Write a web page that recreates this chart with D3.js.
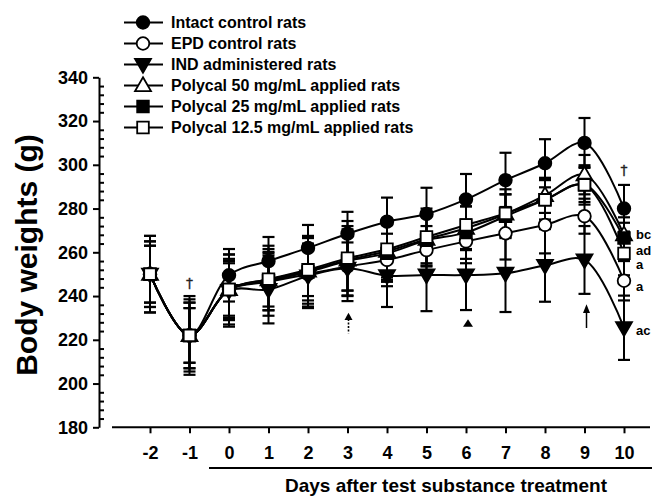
<!DOCTYPE html>
<html>
<head>
<meta charset="utf-8">
<script src="https://cdn.jsdelivr.net/npm/d3@7"></script>
<style>
  html, body { margin: 0; padding: 0; background: #fff; }
  svg { display: block; font-family: "Liberation Sans", Arial, Helvetica, sans-serif; }
</style>
</head>
<body>
<svg id="chart" width="656" height="497"></svg>
<script>
// ---------- data ----------
const days = [-2, -1, 0, 1, 2, 3, 4, 5, 6, 7, 8, 9, 10];

const intact   = [250, 222, 249.5, 256, 262, 268.5, 274, 277.5, 284.2, 293, 300.7, 310, 280];
const epd      = [250, 222, 243, 246.5, 250, 253.5, 256.5, 261, 265, 268.7, 272.5, 276.5, 247];
const ind      = [250, 222, 242.5, 243, 249.2, 252.7, 249.3, 249.6, 249.6, 250.4, 254, 256.5, 225.5];
const poly50   = [250, 222, 243, 247.5, 251.5, 256.5, 260.5, 266, 271, 277.5, 286, 295.5, 268];
const poly25   = [250, 222, 243, 247, 251, 256, 259.5, 265.5, 269, 276.5, 284, 291, 266.5];
const poly125  = [250, 222, 243, 247.7, 252, 257.3, 261.4, 267, 272.5, 277.8, 284, 290.8, 259.5];

const intactSD  = [17.5, 16.5, 12, 11, 10.5, 10, 11, 12, 11.6, 12.5, 11, 11.4, 10.8];
const epdSD     = [15, 12.5, 16, 13, 12, 11, 12, 11, 10, 12, 13, 8, 9];
const indSD     = [13, 15, 16.5, 15.5, 14, 15, 14.3, 16.5, 16, 17.7, 16.6, 15.5, 14.7];
const poly50SD  = [15, 18, 14, 14, 15, 14, 12, 11, 10, 9, 8, 9, 8];
const poly25SD  = [13, 15, 12, 16, 16.5, 16, 13, 12, 12, 10, 9, 8, 7];
const poly125SD = [17.5, 12.5, 13, 12.5, 12, 17, 14, 13, 11, 11, 10, 9, 10];

const seriesNames = [
  "Intact control rats",
  "EPD control rats",
  "IND administered rats",
  "Polycal 50 mg/mL applied rats",
  "Polycal 25 mg/mL applied rats",
  "Polycal 12.5 mg/mL applied rats"
];

const yTicks = [180, 200, 220, 240, 260, 280, 300, 320, 340];
const xTicks = [-2, -1, 0, 1, 2, 3, 4, 5, 6, 7, 8, 9, 10];

// significance letters at day 10 (text, value position)
const letterTexts  = ["bc", "ad", "a", "a", "ac"];
const letterValues = [268, 261, 254.5, 244.5, 224.5];

// daggers (day, value)
const daggerDays   = [-1, 10];
const daggerValues = [246, 297.6];

// ---------- setup ----------
const svg = d3.select("#chart");
const x = d3.scaleLinear().domain([-2, 10]).range([150, 624]);
const y = d3.scaleLinear().domain([180, 340]).range([427.3, 77.3]);

const styles = [
  {shape: d3.symbolCircle,   fill: "#000", rot: 0,   size: 125},
  {shape: d3.symbolCircle,   fill: "#fff", rot: 0,   size: 125},
  {shape: d3.symbolTriangle, fill: "#000", rot: 180, size: 110},
  {shape: d3.symbolTriangle, fill: "#fff", rot: 0,   size: 110},
  {shape: d3.symbolSquare,   fill: "#000", rot: 0,   size: 135},
  {shape: d3.symbolSquare,   fill: "#fff", rot: 0,   size: 135}
];

const means = [intact, epd, ind, poly50, poly25, poly125];
const sds = [intactSD, epdSD, indSD, poly50SD, poly25SD, poly125SD];

const series = seriesNames.map((name, i) => ({
  name, style: styles[i],
  pts: days.map((d, j) => ({day: d, m: means[i][j], sd: sds[i][j]}))
}));

// ---------- axes ----------
const yAxisX = 99;
const gy = svg.append("g").attr("transform", `translate(${yAxisX},0)`);
gy.call(d3.axisLeft(y).tickValues(yTicks).tickSize(6).tickPadding(5).tickSizeOuter(0))
  .call(g => g.select(".domain").attr("stroke-width", 2))
  .call(g => g.selectAll(".tick line").attr("stroke-width", 2))
  .call(g => g.selectAll(".tick text").attr("font-size", 18).attr("font-weight", "bold").attr("fill", "#000"));
const minorTicks = d3.range(180, 341, 4).filter(v => v % 20 !== 0);
svg.append("g").attr("transform", `translate(${yAxisX},0)`)
  .call(d3.axisRight(y).tickValues(minorTicks).tickSize(5).tickFormat(""))
  .call(g => g.select(".domain").remove())
  .call(g => g.selectAll(".tick line").attr("stroke-width", 2));

const xAxisY = 427.3;
svg.append("line").attr("x1", 112).attr("x2", 650).attr("y1", xAxisY).attr("y2", xAxisY)
  .attr("stroke", "#000").attr("stroke-width", 2);
svg.append("g").attr("transform", `translate(0,${xAxisY})`)
  .call(d3.axisBottom(x).tickValues(xTicks).tickSize(6).tickPadding(13).tickFormat(d => String(d)))
  .call(g => g.select(".domain").remove())
  .call(g => g.selectAll(".tick line").attr("stroke-width", 2))
  .call(g => g.selectAll(".tick text").attr("font-size", 18).attr("font-weight", "bold").attr("fill", "#000"));

// bracket line under days 0..10
svg.append("line").attr("x1", 209).attr("x2", 652).attr("y1", 468).attr("y2", 468)
  .attr("stroke", "#000").attr("stroke-width", 2);

svg.append("text").attr("x", 446).attr("y", 491.5)
  .attr("text-anchor", "middle").attr("font-size", 19).attr("font-weight", "bold")
  .text("Days after test substance treatment");

svg.append("text").attr("transform", "translate(37,255) rotate(-90)")
  .attr("text-anchor", "middle").attr("font-size", 30).attr("font-weight", "bold")
  .text("Body weights (g)");

// ---------- error bars ----------
const capW = 6;
const eb = svg.append("g");
series.forEach(s => {
  s.pts.forEach(p => {
    const cx = x(p.day);
    eb.append("line").attr("x1", cx).attr("x2", cx)
      .attr("y1", y(p.m - p.sd)).attr("y2", y(p.m + p.sd))
      .attr("stroke", "#000").attr("stroke-width", 2);
    [p.m - p.sd, p.m + p.sd].forEach(v => {
      eb.append("line").attr("x1", cx - capW).attr("x2", cx + capW)
        .attr("y1", y(v)).attr("y2", y(v))
        .attr("stroke", "#000").attr("stroke-width", 2.2);
    });
  });
});

// ---------- lines & markers ----------
const line = d3.line().x(p => x(p.day)).y(p => y(p.m)).curve(d3.curveCatmullRom.alpha(0.5));
series.forEach(s => {
  svg.append("path").attr("d", line(s.pts)).attr("fill", "none")
    .attr("stroke", "#000").attr("stroke-width", 2);
});
series.forEach(s => {
  const sym = d3.symbol().type(s.style.shape).size(s.style.size);
  svg.append("g").selectAll("path").data(s.pts).join("path")
    .attr("d", sym)
    .attr("transform", p => `translate(${x(p.day)},${y(p.m) + (s.style.shape === d3.symbolTriangle ? (s.style.rot ? -1 : 1) : 0)}) rotate(${s.style.rot})`)
    .attr("fill", s.style.fill).attr("stroke", "#000").attr("stroke-width", 1.8);
});

// ---------- annotations ----------
letterTexts.forEach((t, i) => {
  svg.append("text").attr("x", x(10) + 12).attr("y", y(letterValues[i]))
    .attr("dy", "0.35em").attr("font-size", 13).attr("font-weight", "bold").text(t);
});
daggerDays.forEach((d, i) => {
  svg.append("text").attr("x", x(d)).attr("y", y(daggerValues[i]))
    .attr("dy", "0.35em").attr("text-anchor", "middle").attr("font-size", 14)
    .attr("font-family", "'DejaVu Sans', sans-serif")
    .attr("fill", "#222").attr("stroke", "#222").attr("stroke-width", 0.3).text("\u2020");
});

// dotted arrow at day 3
{
  const cx = x(3) + 1;
  svg.append("line").attr("x1", cx).attr("x2", cx).attr("y1", y(229.5)).attr("y2", y(223))
    .attr("stroke", "#000").attr("stroke-width", 1.6).attr("stroke-dasharray", "2,1.5");
  svg.append("path").attr("d", `M${cx},${y(232.4)} L${cx - 4},${y(229)} L${cx + 4},${y(229)} Z`).attr("fill", "#000");
}
// small filled triangle at day 6
{
  const cx = x(6) + 2;
  svg.append("path").attr("d", `M${cx},${y(229.4)} L${cx - 5},${y(226)} L${cx + 5},${y(226)} Z`).attr("fill", "#000");
}
// solid arrow at day 9
{
  const cx = x(9) + 2;
  svg.append("line").attr("x1", cx).attr("x2", cx).attr("y1", y(233)).attr("y2", y(225.4))
    .attr("stroke", "#000").attr("stroke-width", 1.5);
  svg.append("path").attr("d", `M${cx},${y(236.2)} L${cx - 3.5},${y(232.2)} L${cx + 3.5},${y(232.2)} Z`).attr("fill", "#000");
}

// ---------- legend ----------
const lg = svg.append("g");
series.forEach((s, i) => {
  const ly = 22.5 + i * 21;
  lg.append("line").attr("x1", 124).attr("x2", 163).attr("y1", ly).attr("y2", ly)
    .attr("stroke", "#000").attr("stroke-width", 2);
  lg.append("path").attr("d", d3.symbol().type(s.style.shape).size(s.style.size))
    .attr("transform", `translate(143,${ly + (s.style.shape === d3.symbolTriangle ? (s.style.rot ? -1 : 1) : 0)}) rotate(${s.style.rot})`)
    .attr("fill", s.style.fill).attr("stroke", "#000").attr("stroke-width", 1.8);
  lg.append("text").attr("x", 171).attr("y", ly).attr("dy", "0.35em")
    .attr("font-size", 16).attr("font-weight", "bold").text(s.name);
});
</script>
</body>
</html>
